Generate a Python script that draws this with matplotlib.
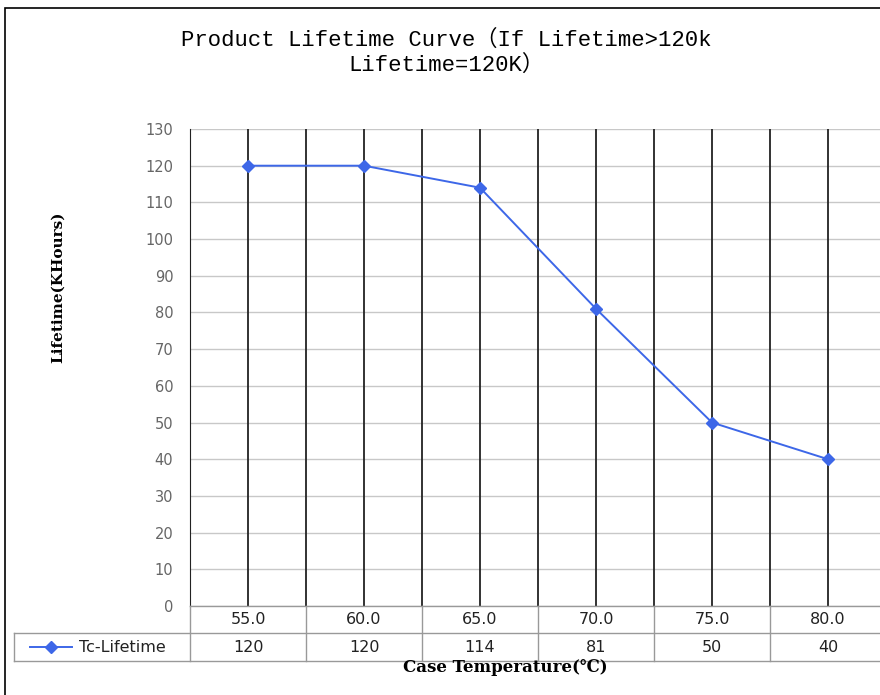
import matplotlib.pyplot as plt
from matplotlib.lines import Line2D
from matplotlib.patches import Rectangle

# data
temps = ['55.0', '60.0', '65.0', '70.0', '75.0', '80.0']
lifetime = [120, 120, 114, 81, 50, 40]
series_name = 'Tc-Lifetime'
yticks = list(range(0, 131, 10))

W, H = 880, 695
fig = plt.figure(figsize=(W / 100, H / 100), dpi=100)

def fx(px):
    return px / W

def fy(py):
    return 1 - py / H

# outer frame
fig.add_artist(Rectangle((fx(5), fy(700)), fx(900), fy(8) - fy(700), transform=fig.transFigure,
                         fill=False, edgecolor='black', lw=1.2))

# plot area
left, right, top, bottom = 190, 886, 129, 606
ax = fig.add_axes([fx(left), fy(bottom), fx(right - left), fy(top) - fy(bottom)])
x = list(range(len(temps)))
ax.set_xlim(-0.5, len(temps) - 0.5)
ax.set_ylim(0, 130)

for yv in yticks:
    ax.axhline(yv, color='#c8c8c8', lw=1, zorder=1)
for i in x:
    ax.axvline(i, color='#222222', lw=1.3, zorder=1)
    ax.axvline(i - 0.5, color='#222222', lw=1.3, zorder=1)

ax.plot(x, lifetime, color='#3d67e8', lw=1.4, marker='D', markersize=6, zorder=3)

for s in ['top', 'right', 'bottom']:
    ax.spines[s].set_visible(False)
ax.spines['left'].set_color('#222222')
ax.set_xticks([])
ax.set_yticks(yticks)
ax.tick_params(axis='y', length=0, labelsize=10.5, labelcolor='#666666', pad=12)

# data table below the axes
row1, row2, row3 = 606, 633, 661
tcol = '#999999'
fig.add_artist(Line2D([fx(left), fx(900)], [fy(row1), fy(row1)], color=tcol, lw=1))
fig.add_artist(Line2D([fx(14), fx(900)], [fy(row2), fy(row2)], color=tcol, lw=1))
fig.add_artist(Line2D([fx(14), fx(900)], [fy(row3), fy(row3)], color=tcol, lw=1))
fig.add_artist(Line2D([fx(14), fx(14)], [fy(row2), fy(row3)], color=tcol, lw=1))
cw = (right - left) / len(temps)
for i in range(len(temps) + 1):
    xb = left + i * cw
    fig.add_artist(Line2D([fx(xb), fx(xb)], [fy(row1), fy(row3)], color=tcol, lw=1))
for i, (t, v) in enumerate(zip(temps, lifetime)):
    xc = left + (i + 0.5) * cw
    fig.text(fx(xc), fy((row1 + row2) / 2), t, ha='center', va='center', fontsize=11.5, color='#222222')
    fig.text(fx(xc), fy((row2 + row3) / 2), str(v), ha='center', va='center', fontsize=11.5, color='#222222')

# legend cell
ly = fy((row2 + row3) / 2)
fig.add_artist(Line2D([fx(30), fx(72)], [ly, ly], color='#3d67e8', lw=1.4))
fig.add_artist(Line2D([fx(51)], [ly], color='#3d67e8', marker='D', markersize=6))
fig.text(fx(79), ly, series_name, ha='left', va='center', fontsize=11.5, color='#222222')

# titles and axis labels
fig.text(fx(446), fy(40), 'Product Lifetime Curve（If Lifetime>120k', ha='center', va='center',
         fontsize=16, family=['Liberation Mono', 'Noto Sans CJK SC'])
fig.text(fx(446), fy(65), 'Lifetime=120K）', ha='center', va='center',
         fontsize=16, family=['Liberation Mono', 'Noto Sans CJK SC'])
fig.text(fx(505), fy(668), 'Case Temperature(℃)', ha='center', va='center', fontsize=12,
         fontweight='bold', family=['DejaVu Serif', 'Noto Sans CJK SC'])
fig.text(fx(58), fy(287), 'Lifetime(KHours)', ha='center', va='center', rotation=90, fontsize=11,
         fontweight='bold', family=['DejaVu Serif', 'Noto Sans CJK SC'])

plt.savefig('out.png', dpi=100)
